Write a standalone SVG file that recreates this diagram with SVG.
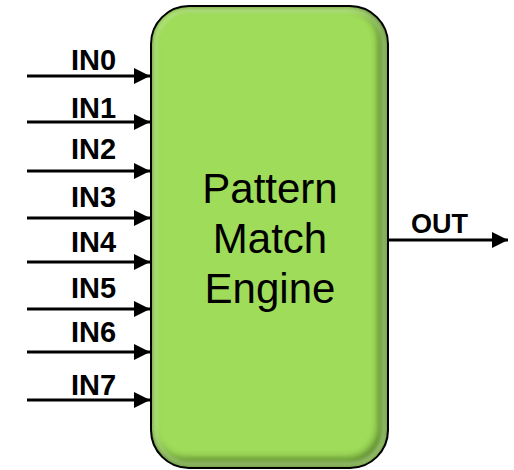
<svg xmlns="http://www.w3.org/2000/svg" width="514" height="470" viewBox="0 0 514 470">
  <defs>
    <style>
      .lbl { font-family: "Liberation Sans", Arial, sans-serif; font-weight: bold; font-size: 29px; fill: #000; }
      .out { font-size: 27px; }
      .title { font-family: "Liberation Sans", Arial, sans-serif; font-size: 42px; fill: #000; text-anchor: middle; }
      .wire { stroke: #000; stroke-width: 3; fill: none; }
    </style>
    <marker id="ah" viewBox="0 0 10 10" refX="10" refY="5" markerWidth="5.5" markerHeight="5.5" orient="auto" markerUnits="strokeWidth">
      <path d="M0,0 L10,5 L0,10 Z" fill="#000"/>
    </marker>
    <clipPath id="boxclip">
      <rect x="151" y="6" width="237" height="462" rx="38" ry="38"/>
    </clipPath>
    <filter id="blur" x="-20%" y="-20%" width="140%" height="140%">
      <feGaussianBlur stdDeviation="3.5"/>
    </filter>
    <filter id="blur2" x="-20%" y="-20%" width="140%" height="140%">
      <feGaussianBlur stdDeviation="2"/>
    </filter>
  </defs>

  <g id="engine">
    <rect x="151" y="6" width="237" height="462" rx="38" ry="38" fill="#9fdc5a"/>
    <g clip-path="url(#boxclip)">
      <rect x="147" y="2" width="237" height="462" rx="38" ry="38" fill="none" stroke="#4f7a25" stroke-width="12" filter="url(#blur)" opacity="0.85"/>
      <rect x="155" y="10" width="229" height="454" rx="34" ry="34" fill="none" stroke="#d8f7b8" stroke-width="3" filter="url(#blur2)" opacity="0.7"/>
    </g>
    <rect x="151" y="6" width="237" height="462" rx="38" ry="38" fill="none" stroke="#000" stroke-width="2"/>
    <text class="title" x="270" y="203">Pattern</text>
    <text class="title" x="270" y="253">Match</text>
    <text class="title" x="270" y="303">Engine</text>
  </g>

  <g id="connectors">
    <line class="wire" x1="27" y1="76" x2="150" y2="76" marker-end="url(#ah)"/>
    <line class="wire" x1="27" y1="122" x2="150" y2="122" marker-end="url(#ah)"/>
    <line class="wire" x1="27" y1="171" x2="150" y2="171" marker-end="url(#ah)"/>
    <line class="wire" x1="27" y1="218" x2="150" y2="218" marker-end="url(#ah)"/>
    <line class="wire" x1="27" y1="262" x2="150" y2="262" marker-end="url(#ah)"/>
    <line class="wire" x1="27" y1="309" x2="150" y2="309" marker-end="url(#ah)"/>
    <line class="wire" x1="27" y1="352" x2="150" y2="352" marker-end="url(#ah)"/>
    <line class="wire" x1="27" y1="400" x2="150" y2="400" marker-end="url(#ah)"/>
    <line class="wire" x1="388" y1="240" x2="508" y2="240" stroke-width="2.5" marker-end="url(#ah)"/>
  </g>

  <g id="labels">
    <text class="lbl" x="71" y="70">IN0</text>
    <text class="lbl" x="71" y="118">IN1</text>
    <text class="lbl" x="71" y="159">IN2</text>
    <text class="lbl" x="71" y="207">IN3</text>
    <text class="lbl" x="71" y="252">IN4</text>
    <text class="lbl" x="71" y="298">IN5</text>
    <text class="lbl" x="71" y="342">IN6</text>
    <text class="lbl" x="71" y="395">IN7</text>
    <text class="lbl out" x="411" y="233">OUT</text>
  </g>
</svg>
